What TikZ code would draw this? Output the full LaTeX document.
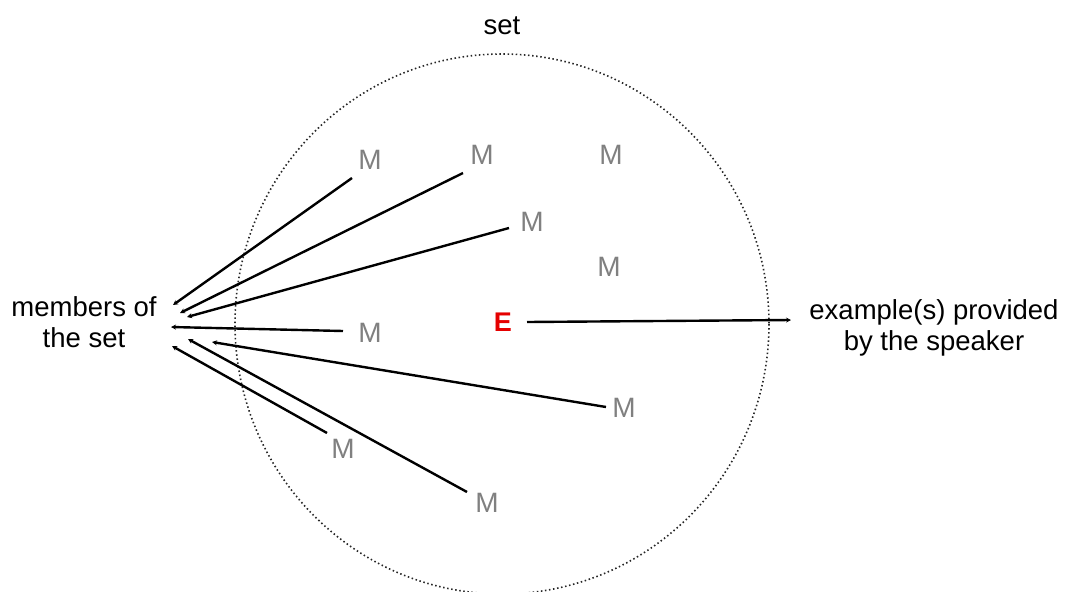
\documentclass[tikz,border=0pt]{standalone}
\usepackage{fontspec}
\setmainfont{Liberation Sans}
\usetikzlibrary{arrows.meta}
\begin{document}
\begin{tikzpicture}[x=1pt,y=-1pt,
  lbl/.style={font=\fontsize{27.5}{31}\selectfont, text=black, align=center, inner sep=0pt},
  mem/.style={font=\fontsize{28}{32}\selectfont, text=black!50, inner sep=0pt},
  ex/.style={font=\bfseries\fontsize{27}{31}\selectfont, text=red!90!black, inner sep=0pt},
  link/.style={line width=2.4pt, -{Stealth[length=5pt,width=5pt]}},
  setline/.style={line width=1.6pt, black!85, dash pattern=on 1.5pt off 2.6pt}]
\useasboundingbox (0,0) rectangle (1069,592);
% the set
\draw[setline] (502,324) ellipse [x radius=267, y radius=270];
\node[lbl] (setlabel) at (502,26) {set};
% labels
\node[lbl] (members) at (84,322) {members of\\the set};
\node[lbl] (example) at (934,328) {example(s) provided\\by the speaker};
% members
\node[mem] (m1) at (370,160) {M};
\node[mem] (m2) at (482,155) {M};
\node[mem] (m3) at (611,155) {M};
\node[mem] (m4) at (532,222) {M};
\node[mem] (m5) at (609,267) {M};
\node[mem] (m6) at (370,333) {M};
\node[mem] (m7) at (624,408) {M};
\node[mem] (m8) at (343,449) {M};
\node[mem] (m9) at (487,503) {M};
\node[ex] (e) at (503,322) {E};
% connector ends
\coordinate (s1) at (352,178);
\coordinate (s2) at (463,173);
\coordinate (s4) at (509,228);
\coordinate (s6) at (343,331);
\coordinate (s7) at (606,407);
\coordinate (s8) at (327,433);
\coordinate (s9) at (467,492);
\coordinate (se) at (527,322);
\coordinate (t1) at (173,305);
\coordinate (t2) at (180,313);
\coordinate (t4) at (187,317);
\coordinate (t6) at (171,327);
\coordinate (t7) at (212,342);
\coordinate (t8) at (172,346);
\coordinate (t9) at (188,339);
\coordinate (te) at (791,320);
% connectors
\draw[link] (s1) -- (t1);
\draw[link] (s2) -- (t2);
\draw[link] (s4) -- (t4);
\draw[link] (s6) -- (t6);
\draw[link] (s7) -- (t7);
\draw[link] (s8) -- (t8);
\draw[link] (s9) -- (t9);
\draw[link] (se) -- (te);
\end{tikzpicture}
\end{document}
